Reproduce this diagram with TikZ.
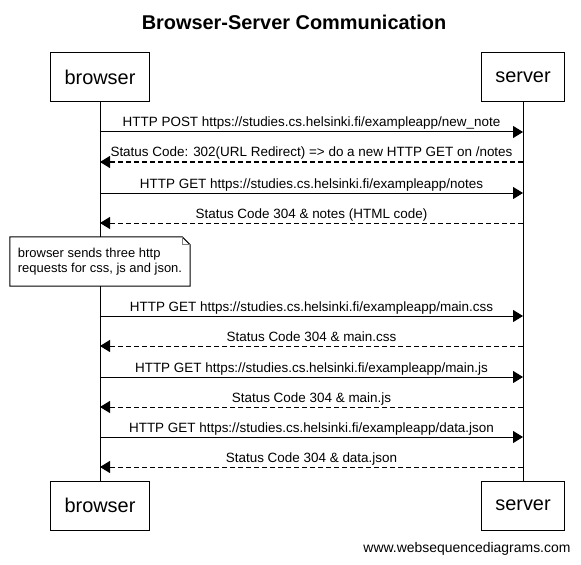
\documentclass[tikz,border=0pt]{standalone}
\usepackage{fontspec}
\setmainfont{Liberation Sans}
\usetikzlibrary{arrows.meta}

\begin{document}
\begin{tikzpicture}[
  x=1bp, y=-1bp,
  every node/.style={font=\fontsize{13.5}{15}\selectfont},
  actor/.style={rectangle, draw, line width=1bp, inner xsep=14bp, minimum height=49bp, font=\fontsize{20}{24}\selectfont},
  lifeline/.style={line width=1bp},
  request/.style={line width=1bp, -{Triangle[length=10bp, width=12bp]}},
  reply/.style={request, dash pattern=on 5bp off 3bp},
  msgtext/.style={above, inner sep=1.5bp, text depth=3bp},
  memo/.style={rectangle, fill=white, minimum width=180bp, minimum height=49bp, inner xsep=6bp, align=left}
  ]

\useasboundingbox (0,0) rectangle (581,565);

\node[font=\bfseries\fontsize{20}{24}\selectfont] (title) at (294,22) {Browser-Server Communication};

\node[actor] (browser) at (100,77.5) {browser};
\node[actor] (server) at (523,77.5) {server};
\node[actor] (browserEnd) at (100,505.5) {browser};
\node[actor] (serverEnd) at (523,505.5) {server};

\draw[lifeline] (browser) -- (browserEnd);
\draw[lifeline] (server) -- (serverEnd);

\coordinate (b1) at (100,132); \coordinate (s1) at (523,132);
\coordinate (b2) at (100,162); \coordinate (s2) at (523,162);
\coordinate (b3) at (100,193); \coordinate (s3) at (523,193);
\coordinate (b4) at (100,223); \coordinate (s4) at (523,223);
\coordinate (b5) at (100,316); \coordinate (s5) at (523,316);
\coordinate (b6) at (100,346); \coordinate (s6) at (523,346);
\coordinate (b7) at (100,377); \coordinate (s7) at (523,377);
\coordinate (b8) at (100,407); \coordinate (s8) at (523,407);
\coordinate (b9) at (100,437); \coordinate (s9) at (523,437);
\coordinate (b10) at (100,467); \coordinate (s10) at (523,467);

\draw[request] (b1) -- node[msgtext] {HTTP POST https://studies.cs.helsinki.fi/exampleapp/new\_note} (s1);
\draw[reply] (s2) -- node[msgtext] {Status Code: 302(URL Redirect) => do a new HTTP GET on /notes} (b2);
\draw[request] (b3) -- node[msgtext] {HTTP GET https://studies.cs.helsinki.fi/exampleapp/notes} (s3);
\draw[reply] (s4) -- node[msgtext] {Status Code 304 \& notes (HTML code)} (b4);

% note over the browser lifeline
\node[memo, font=\fontsize{13}{15}\selectfont] (remark) at (100,261.5) {browser sends three http\\requests for css, js and json.};
\draw[line width=1bp] (remark.south west) -- (remark.north west) -- ([xshift=-8bp]remark.north east)
  -- ([yshift=-8bp]remark.north east) -- (remark.south east) -- cycle;
\draw[gray, line width=1bp] ([xshift=-8bp]remark.north east) -- ([xshift=-8bp, yshift=-8bp]remark.north east)
  -- ([yshift=-8bp]remark.north east);

\draw[request] (b5) -- node[msgtext] {HTTP GET https://studies.cs.helsinki.fi/exampleapp/main.css} (s5);
\draw[reply] (s6) -- node[msgtext] {Status Code 304 \& main.css} (b6);
\draw[request] (b7) -- node[msgtext] {HTTP GET https://studies.cs.helsinki.fi/exampleapp/main.js} (s7);
\draw[reply] (s8) -- node[msgtext] {Status Code 304 \& main.js} (b8);
\draw[request] (b9) -- node[msgtext] {HTTP GET https://studies.cs.helsinki.fi/exampleapp/data.json} (s9);
\draw[reply] (s10) -- node[msgtext] {Status Code 304 \& data.json} (b10);

\node[font=\fontsize{14}{16}\selectfont, anchor=east] (footer) at (574,549) {www.websequencediagrams.com};

\end{tikzpicture}
\end{document}
